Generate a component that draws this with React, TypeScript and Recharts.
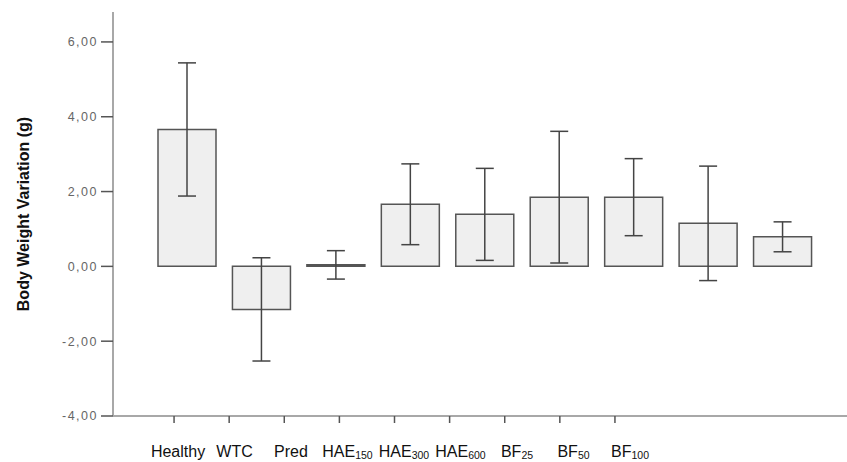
import React from "react";
import { BarChart, Bar, XAxis, YAxis, ErrorBar } from "recharts";

const categories = ["Healthy", "WTC", "Pred", "HAE150", "HAE300", "HAE600", "BF25", "BF50", "BF100"];
const labelMain = ["Healthy", "WTC", "Pred", "HAE", "HAE", "HAE", "BF", "BF", "BF"];
const labelSub = ["", "", "", "150", "300", "600", "25", "50", "100"];
const means = [3.66, -1.15, 0.04, 1.66, 1.39, 1.85, 1.85, 1.15, 0.79];
const errors = [1.78, 1.38, 0.38, 1.08, 1.23, 1.76, 1.03, 1.53, 0.4];
const yTicks = [-4, -2, 0, 2, 4, 6];

const data = categories.map((name, i) => ({
  name,
  main: labelMain[i],
  sub: labelSub[i],
  mean: means[i],
  err: errors[i],
}));

const FONT = "'Liberation Sans', Arial, sans-serif";

const LabelTick = (props: any) => {
  const { x, y, index } = props;
  const d = data[index];
  if (!d) return null;
  return (
    <text x={x} y={y} dy="0.71em" textAnchor="middle" fontFamily={FONT} fontSize={16} fill="#111">
      <tspan>{d.main}</tspan>
      {d.sub ? (
        <tspan fontSize={10.5} dy={2}>
          {d.sub}
        </tspan>
      ) : null}
    </text>
  );
};

const YTitle = (props: any) => {
  const vb = props.viewBox || {};
  const cx = (vb.x || 0) + 23;
  const cy = (vb.y || 0) + (vb.height || 0) / 2;
  return (
    <text
      x={cx}
      y={cy}
      transform={`rotate(-90, ${cx}, ${cy})`}
      textAnchor="middle"
      dominantBaseline="central"
      fontFamily={FONT}
      fontSize={16}
      fontWeight="bold"
      fill="#111"
    >
      Body Weight Variation (g)
    </text>
  );
};

export default function App() {
  return (
    <div style={{ position: "absolute", left: 0, top: 0, width: 847, height: 462, background: "#fff" }}>
      <BarChart width={847} height={462} data={data} margin={{ top: 12, right: 0, left: 0, bottom: 0 }} barSize={58}>
        <XAxis
          xAxisId="a_ticks"
          dataKey="name"
          height={1}
          padding={{ left: 33.5, right: 204.5 }}
          axisLine={{ stroke: "#a8a8a8", strokeWidth: 2 }}
          tickLine={{ stroke: "#555", strokeWidth: 1.5 }}
          tickSize={7}
          tickFormatter={() => ""}
          interval={0}
        />
        <XAxis
          xAxisId="b_labels"
          dataKey="name"
          height={45}
          padding={{ left: 36.75, right: 188.75 }}
          axisLine={false}
          tickLine={false}
          tickSize={0}
          tickMargin={29}
          tick={<LabelTick />}
          interval={0}
        />
        <XAxis xAxisId="z_bars" dataKey="name" hide height={0} padding={{ left: 37, right: 27 }} />
        <YAxis
          width={113}
          domain={[-4, 6.8]}
          ticks={yTicks}
          allowDataOverflow
          axisLine={{ stroke: "#a8a8a8", strokeWidth: 2 }}
          tickLine={{ stroke: "#555", strokeWidth: 1.5 }}
          tickSize={12}
          tickMargin={3}
          tickFormatter={(v: number) => v.toFixed(2).replace(".", ",")}
          tick={{ fontFamily: FONT, fontSize: 12.5, fill: "#666", letterSpacing: 1.5 }}
          label={<YTitle />}
        />
        <Bar xAxisId="z_bars" dataKey="mean" fill="#efefef" stroke="#555" strokeWidth={1.5} isAnimationActive={false}>
          <ErrorBar dataKey="err" width={9} stroke="#444" strokeWidth={1.5} direction="y" isAnimationActive={false} />
        </Bar>
      </BarChart>
    </div>
  );
}
